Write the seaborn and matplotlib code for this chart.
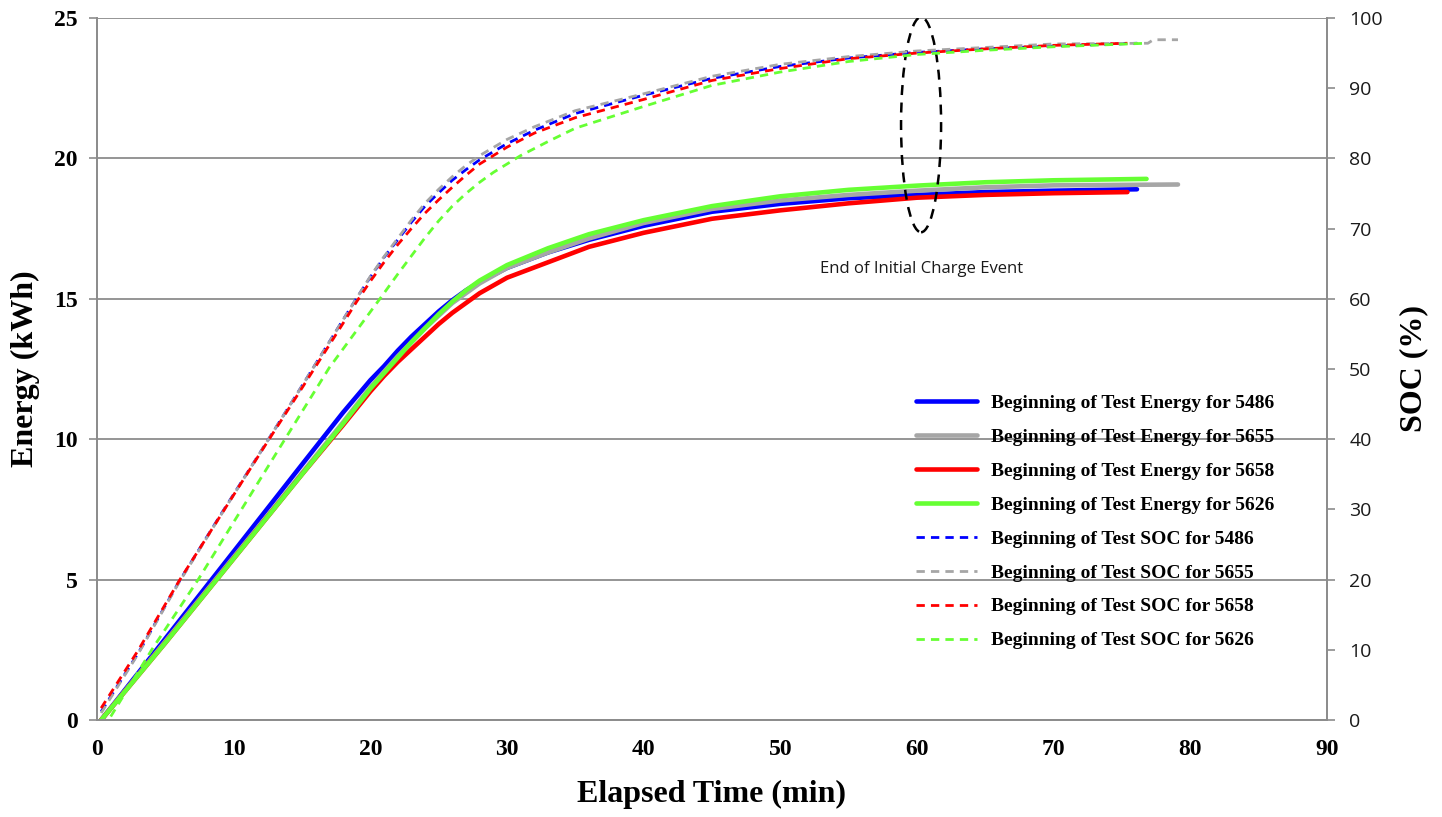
import matplotlib
matplotlib.use("Agg")
import matplotlib.pyplot as plt
import seaborn as sns
from matplotlib.patches import Ellipse

# Style
sns.set_style("white")
plt.rcParams['font.family'] = ['Liberation Serif', 'DejaVu Serif']
plt.rcParams['text.color'] = 'black'
plt.rcParams['axes.labelcolor'] = 'black'
plt.rcParams['xtick.color'] = 'black'
plt.rcParams['ytick.color'] = 'black'

# Energy (kWh) vs elapsed time (min), one per vehicle
t_e_5486 = [0.3, 5, 10, 15, 18, 20, 21, 22, 23, 24, 25, 26, 27, 28, 30, 33, 36, 40, 45, 50, 55, 60, 65, 70, 76.1]
e_5486 = [0.0, 2.9, 6.0, 9.1, 10.95, 12.1, 12.6, 13.15, 13.65, 14.1, 14.55, 14.95, 15.3, 15.6, 16.1, 16.65, 17.1,
          17.6, 18.1, 18.38, 18.58, 18.7, 18.8, 18.85, 18.9]

t_e_5655 = [0.3, 5, 10, 15, 18, 20, 21, 22, 23, 24, 25, 26, 27, 28, 30, 33, 36, 40, 45, 50, 55, 60, 65, 70, 79.1]
e_5655 = [0.0, 2.8, 5.8, 8.8, 10.6, 11.85, 12.4, 12.95, 13.45, 13.95, 14.4, 14.85, 15.2, 15.55, 16.1, 16.65, 17.15,
          17.7, 18.2, 18.5, 18.7, 18.85, 18.97, 19.04, 19.07]

t_e_5658 = [0.3, 5, 10, 15, 18, 20, 21, 22, 23, 24, 25, 26, 27, 28, 30, 33, 36, 40, 45, 50, 55, 60, 65, 70, 75.4]
e_5658 = [0.0, 2.75, 5.75, 8.75, 10.5, 11.7, 12.25, 12.75, 13.2, 13.65, 14.1, 14.5, 14.85, 15.2, 15.75, 16.3, 16.85,
          17.35, 17.85, 18.15, 18.4, 18.6, 18.7, 18.76, 18.8]

t_e_5626 = [0.3, 5, 10, 15, 18, 20, 21, 22, 23, 24, 25, 26, 27, 28, 30, 33, 36, 40, 45, 50, 55, 60, 65, 70, 76.8]
e_5626 = [0.0, 2.75, 5.75, 8.75, 10.55, 11.8, 12.35, 12.9, 13.45, 13.95, 14.45, 14.9, 15.3, 15.65, 16.2, 16.8, 17.3,
          17.8, 18.3, 18.65, 18.88, 19.03, 19.15, 19.22, 19.27]

# SOC (%) vs elapsed time (min)
t_s_5486 = [0.3, 3, 6, 9, 12, 15, 18, 19, 20, 21, 22, 23, 24, 25, 26, 27, 28, 30, 32, 35, 40, 45, 50, 55, 60, 65,
            70, 76.1]
s_5486 = [1.2, 9.5, 19.7, 29.1, 38.3, 47.6, 57.0, 60.1, 63.1, 65.9, 68.4, 70.9, 73.2, 75.1, 76.9, 78.4, 79.8, 82.1,
          84.0, 86.4, 89.0, 91.4, 93.1, 94.3, 95.1, 95.6, 96.0, 96.4]

t_s_5655 = [0.3, 3, 6, 9, 12, 15, 18, 19, 20, 21, 22, 23, 24, 25, 26, 27, 28, 30, 32, 35, 40, 45, 50, 55, 60, 65,
            70, 76.9, 77.3, 79.1]
s_5655 = [1.0, 9.4, 19.6, 29.0, 38.3, 47.6, 57.0, 60.1, 63.2, 66.0, 68.6, 71.2, 73.6, 75.6, 77.4, 79.0, 80.4, 82.7,
          84.5, 86.8, 89.2, 91.7, 93.4, 94.5, 95.3, 95.8, 96.3, 96.4, 96.9, 96.9]

t_s_5658 = [0.3, 3, 6, 9, 12, 15, 18, 19, 20, 21, 22, 23, 24, 25, 26, 27, 28, 30, 32, 35, 40, 45, 50, 55, 60, 65,
            70, 75.4]
s_5658 = [1.7, 9.9, 19.8, 29.0, 38.2, 47.3, 56.5, 59.6, 62.5, 65.2, 67.7, 70.0, 72.2, 74.1, 75.9, 77.6, 79.2, 81.6,
          83.6, 85.8, 88.4, 91.1, 92.8, 94.2, 95.0, 95.6, 96.1, 96.4]

t_s_5626 = [1.0, 4, 7.4, 10, 13.75, 17, 20.7, 22, 23, 24, 25, 26, 27, 28, 29, 31, 33, 35, 40, 45, 50, 55, 60, 65,
            70, 76.8]
s_5626 = [0.5, 10.0, 20.0, 28.2, 40.0, 50.2, 60.0, 63.5, 66.1, 68.7, 71.1, 73.2, 75.0, 76.6, 78.0, 80.4, 82.4, 84.3,
          87.4, 90.4, 92.3, 93.8, 94.8, 95.4, 95.9, 96.4]

vehicles = ['5486', '5655', '5658', '5626']
colors = ['#0000FF', '#A6A6A6', '#FF0000', '#66FF33']
energy_series = [(t_e_5486, e_5486), (t_e_5655, e_5655), (t_e_5658, e_5658), (t_e_5626, e_5626)]
soc_series = [(t_s_5486, s_5486), (t_s_5655, s_5655), (t_s_5658, s_5658), (t_s_5626, s_5626)]

x_ticks = list(range(0, 91, 10))
e_ticks = list(range(0, 26, 5))
s_ticks = list(range(0, 101, 10))

axis_grey = '#8c8c8c'

fig = plt.figure(figsize=(14.42, 8.17), dpi=100)
ax = fig.add_axes([0.0673, 0.1187, 0.8529, 0.8593])
ax2 = ax.twinx()

for veh, col, (t, e) in zip(vehicles, colors, energy_series):
    sns.lineplot(x=t, y=e, ax=ax, color=col, linewidth=3.3, sort=False, estimator=None,
                 legend=False, label=f'Beginning of Test Energy for {veh}')

for veh, col, (t, s) in zip(vehicles, colors, soc_series):
    sns.lineplot(x=t, y=s, ax=ax2, color=col, linewidth=2.0, sort=False, estimator=None,
                 legend=False, linestyle=(0, (3, 2.2)), label=f'Beginning of Test SOC for {veh}')

# Axes limits and ticks
ax.set_xlim(0, 90)
ax.set_ylim(0, 25)
ax2.set_ylim(0, 100)
ax.set_xticks(x_ticks, labels=[str(v) for v in x_ticks], fontweight='bold', fontsize=17)
ax.set_yticks(e_ticks, labels=[str(v) for v in e_ticks], fontweight='bold', fontsize=17)
ax2.set_yticks(s_ticks, labels=[str(v) for v in s_ticks], fontfamily='Open Sans', fontsize=14, color='#1a1a1a')

ax.tick_params(axis='both', direction='out', length=6, width=1.2, color=axis_grey, pad=8)
ax2.tick_params(axis='y', direction='out', length=6, width=1.2, color=axis_grey, pad=10)

ax.yaxis.grid(True, color=axis_grey, linewidth=1.3)
ax.xaxis.grid(False)
ax2.grid(False)
ax.set_axisbelow(True)

for a in (ax, ax2):
    a.spines['top'].set_visible(False)
    for side in ('left', 'bottom', 'right'):
        a.spines[side].set_color(axis_grey)
        a.spines[side].set_linewidth(1.3)

ax.set_xlabel('Elapsed Time (min)', fontsize=23, fontweight='bold', labelpad=14)
ax.set_ylabel('Energy (kWh)', fontsize=23, fontweight='bold', labelpad=10)
ax2.set_ylabel('SOC (%)', fontsize=23, fontweight='bold', labelpad=12)

# End of initial charge marker
ax.add_patch(Ellipse((60.3, 21.2), 2.93, 7.66, fill=False, edgecolor='black',
                     linewidth=1.8, linestyle=(0, (4, 3)), zorder=5))
ax.text(60.3, 16.06, 'End of Initial Charge Event', ha='center', va='center',
        fontsize=12, fontfamily='Open Sans', color='#1a1a1a')

# Combined legend
h1, l1 = ax.get_legend_handles_labels()
h2, l2 = ax2.get_legend_handles_labels()
ax2.legend(h1 + h2, l1 + l2, loc='upper left', bbox_to_anchor=(0.630, 0.527),
           bbox_transform=fig.transFigure, frameon=False,
           prop={'family': 'Liberation Serif', 'weight': 'bold', 'size': 14},
           handlelength=3.1, handletextpad=0.77, labelspacing=0.84, borderaxespad=0)

plt.savefig('out.png', dpi=100)
